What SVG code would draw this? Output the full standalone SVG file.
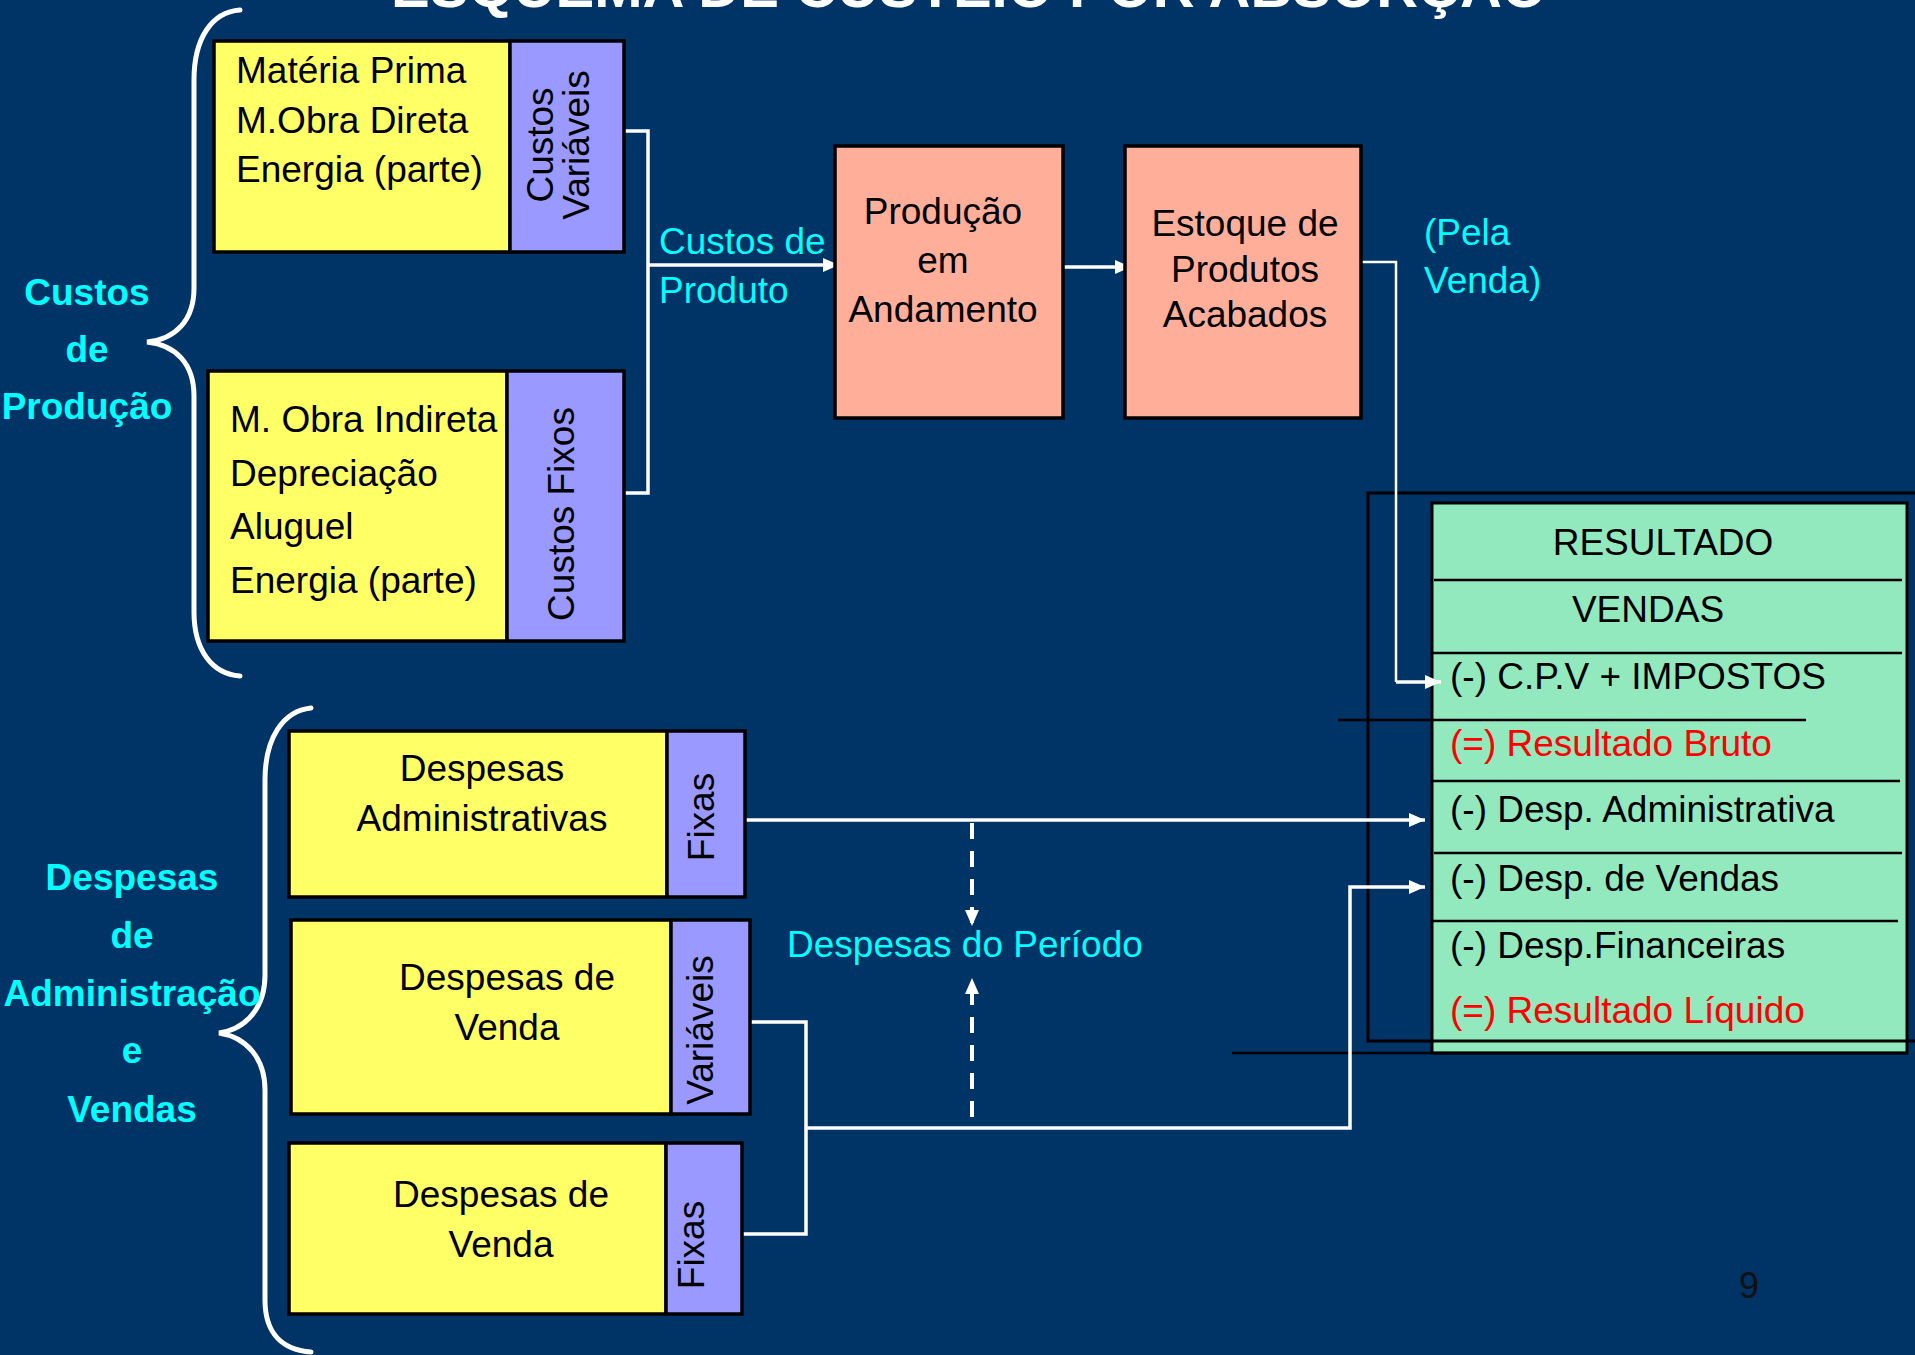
<svg xmlns="http://www.w3.org/2000/svg" width="1915" height="1355" viewBox="0 0 1915 1355">
  <defs>
    <style>
      .t { font-family: "Liberation Sans", Arial, sans-serif; font-size: 37px; fill: #000; }
      .c { text-anchor: middle; }
      .lbl { font-family: "Liberation Sans", Arial, sans-serif; font-size: 37px; font-weight: bold; fill: #00FFFF; text-anchor: middle; }
      .cy { font-family: "Liberation Sans", Arial, sans-serif; font-size: 37px; fill: #00FFFF; }
      .red { fill: #FF0000; }
      .yel { fill: #FFFF66; stroke: #000; stroke-width: 3.5; }
      .pur { fill: #9999FF; stroke: #000; stroke-width: 3.5; }
      .sal { fill: #FFAE9A; stroke: #000; stroke-width: 3.5; }
      .brace { fill: none; stroke: #FFFFFF; stroke-width: 5; stroke-linecap: round; }
      .wire { fill: none; stroke: #FFFFFF; stroke-width: 3.5; }
      .thin { fill: none; stroke: #FFFFFF; stroke-width: 2.5; }
      .dash { fill: none; stroke: #FFFFFF; stroke-width: 4; stroke-dasharray: 16 12; }
      .rule { stroke: #000; stroke-width: 2.5; }
    </style>
    <marker id="arr" viewBox="0 0 16 14" refX="16" refY="7" markerWidth="16" markerHeight="14" markerUnits="userSpaceOnUse" orient="auto">
      <path d="M0,0 L16,7 L0,14 z" fill="#FFFFFF"/>
    </marker>
  </defs>

  <!-- slide background -->
  <rect x="0" y="0" width="1915" height="1355" fill="#003366"/>

  <!-- title (partly above the top edge) -->
  <text x="969" y="7" font-family="Liberation Sans, Arial, sans-serif" font-size="58" font-weight="bold" fill="#FFFFFF" text-anchor="middle">ESQUEMA DE CUSTEIO POR ABSORÇÃO</text>

  <!-- braces -->
  <g id="brace-producao">
    <path class="brace" d="M240,10 C212,12 194,38 194,80 L194,288 C194,320 176,339 147,342 C176,345 194,364 194,396 L194,612 C194,650 212,674 240,676"/>
  </g>
  <g id="brace-despesas">
    <path class="brace" d="M311,708 C283,711 265,738 265,780 L265,975 C265,1008 246,1029 219,1033 C246,1037 265,1058 265,1090 L265,1300 C265,1334 283,1350 311,1352"/>
  </g>

  <!-- side labels -->
  <g id="label-custos-producao">
    <text class="lbl" x="87" y="305">Custos</text>
    <text class="lbl" x="87" y="362">de</text>
    <text class="lbl" x="87" y="419">Produção</text>
  </g>
  <g id="label-despesas">
    <text class="lbl" x="132" y="890">Despesas</text>
    <text class="lbl" x="132" y="948">de</text>
    <text class="lbl" x="132" y="1006">Administração</text>
    <text class="lbl" x="132" y="1063">e</text>
    <text class="lbl" x="132" y="1122">Vendas</text>
  </g>

  <!-- result statement panel -->
  <g id="resultado">
    <rect x="1432" y="503" width="475" height="550" fill="#93E9BE" stroke="#000" stroke-width="3"/>
    <line class="rule" x1="1434" y1="580" x2="1902" y2="580"/>
    <line class="rule" x1="1433" y1="653" x2="1902" y2="653"/>
    <line class="rule" x1="1432" y1="781" x2="1900" y2="781"/>
    <line class="rule" x1="1434" y1="853" x2="1902" y2="853"/>
    <line class="rule" x1="1432" y1="921" x2="1898" y2="921"/>
    <text class="t c" x="1663" y="555">RESULTADO</text>
    <text class="t c" x="1648" y="622">VENDAS</text>
    <text class="t" x="1450" y="689">(-) C.P.V + IMPOSTOS</text>
    <text class="t red" x="1450" y="756">(=) Resultado Bruto</text>
    <text class="t" x="1450" y="822">(-) Desp. Administrativa</text>
    <text class="t" x="1450" y="891">(-) Desp. de Vendas</text>
    <text class="t" x="1450" y="958">(-) Desp.Financeiras</text>
    <text class="t red" x="1450" y="1023">(=) Resultado Líquido</text>
    <!-- frame and stray rules around the panel -->
    <rect x="1368" y="493" width="600" height="548" fill="none" stroke="#000" stroke-width="3"/>
    <line class="rule" x1="1338" y1="720" x2="1806" y2="720"/>
    <line class="rule" x1="1232" y1="1053" x2="1906" y2="1053"/>
  </g>

  <!-- connectors -->
  <g id="connectors">
    <polyline class="wire" points="624,131 648,131 648,493 624,493"/>
    <line class="wire" x1="648" y1="265" x2="839" y2="265" marker-end="url(#arr)"/>
    <line class="wire" x1="1063" y1="267" x2="1131" y2="267" marker-end="url(#arr)"/>
    <polyline class="thin" points="1361,262 1396,262 1396,682"/>
    <line class="wire" x1="1396" y1="682" x2="1441" y2="682" stroke-width="4.5" marker-end="url(#arr)"/>
    <line class="wire" x1="745" y1="820" x2="1425" y2="820" marker-end="url(#arr)"/>
    <polyline class="wire" points="750,1022 806,1022 806,1234 742,1234"/>
    <polyline class="wire" points="806,1128 1350,1128 1350,887 1425,887" marker-end="url(#arr)"/>
    <line class="dash" x1="972" y1="823" x2="972" y2="926" marker-end="url(#arr)"/>
    <line class="dash" x1="972" y1="1117" x2="972" y2="978" marker-end="url(#arr)"/>
  </g>

  <!-- connector labels -->
  <g id="connector-labels">
    <text class="cy" x="659" y="254">Custos de</text>
    <text class="cy" x="659" y="303">Produto</text>
    <text class="cy" x="1424" y="245">(Pela</text>
    <text class="cy" x="1424" y="293">Venda)</text>
    <text class="cy" x="787" y="957">Despesas do Período</text>
  </g>

  <!-- variable production costs -->
  <g id="custos-variaveis">
    <rect class="yel" x="214" y="41" width="296" height="211"/>
    <rect class="pur" x="510" y="41" width="114" height="211"/>
    <text class="t" x="236" y="83">Matéria Prima</text>
    <text class="t" x="236" y="133">M.Obra Direta</text>
    <text class="t" x="236" y="182">Energia (parte)</text>
    <text class="t c" x="553" y="145" transform="rotate(-90 553 145)">Custos</text>
    <text class="t c" x="589" y="145" transform="rotate(-90 589 145)">Variáveis</text>
  </g>

  <!-- fixed production costs -->
  <g id="custos-fixos">
    <rect class="yel" x="208" y="371" width="299" height="270"/>
    <rect class="pur" x="507" y="371" width="117" height="270"/>
    <text class="t" x="230" y="432">M. Obra Indireta</text>
    <text class="t" x="230" y="486">Depreciação</text>
    <text class="t" x="230" y="539">Aluguel</text>
    <text class="t" x="230" y="593">Energia (parte)</text>
    <text class="t c" x="574" y="514" transform="rotate(-90 574 514)">Custos Fixos</text>
  </g>

  <!-- work in progress -->
  <g id="producao-andamento">
    <rect class="sal" x="835" y="146" width="228" height="272"/>
    <text class="t c" x="943" y="224">Produção</text>
    <text class="t c" x="943" y="273">em</text>
    <text class="t c" x="943" y="322">Andamento</text>
  </g>

  <!-- finished goods -->
  <g id="estoque-acabados">
    <rect class="sal" x="1125" y="146" width="236" height="272"/>
    <text class="t c" x="1245" y="236">Estoque de</text>
    <text class="t c" x="1245" y="282">Produtos</text>
    <text class="t c" x="1245" y="327">Acabados</text>
  </g>

  <!-- administrative expenses -->
  <g id="despesas-administrativas">
    <rect class="yel" x="289" y="731" width="378" height="166"/>
    <rect class="pur" x="667" y="731" width="78" height="166"/>
    <text class="t c" x="482" y="781">Despesas</text>
    <text class="t c" x="482" y="831">Administrativas</text>
    <text class="t c" x="714" y="817" transform="rotate(-90 714 817)">Fixas</text>
  </g>

  <!-- variable selling expenses -->
  <g id="despesas-venda-variaveis">
    <rect class="yel" x="291" y="920" width="380" height="194"/>
    <rect class="pur" x="671" y="920" width="79" height="194"/>
    <text class="t c" x="507" y="990">Despesas de</text>
    <text class="t c" x="507" y="1040">Venda</text>
    <text class="t c" x="713" y="1030" transform="rotate(-90 713 1030)">Variáveis</text>
  </g>

  <!-- fixed selling expenses -->
  <g id="despesas-venda-fixas">
    <rect class="yel" x="289" y="1143" width="377" height="171"/>
    <rect class="pur" x="666" y="1143" width="76" height="171"/>
    <text class="t c" x="501" y="1207">Despesas de</text>
    <text class="t c" x="501" y="1257">Venda</text>
    <text class="t c" x="704" y="1245" transform="rotate(-90 704 1245)">Fixas</text>
  </g>

  <!-- page number -->
  <text x="1749" y="1298" font-family="Liberation Sans, Arial, sans-serif" font-size="36" fill="#111" text-anchor="middle">9</text>
</svg>
